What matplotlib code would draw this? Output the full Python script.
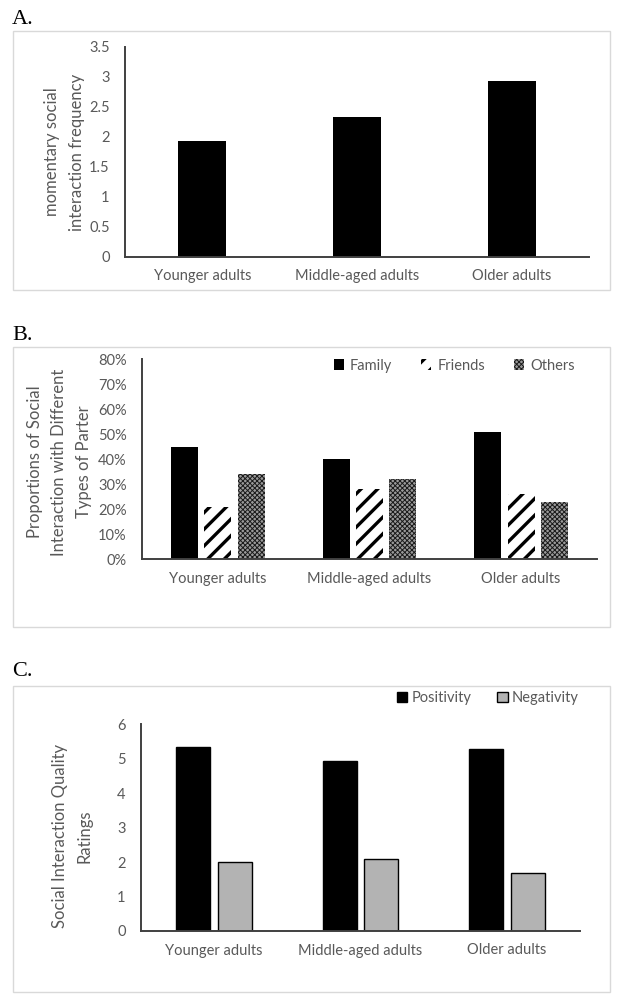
import matplotlib
matplotlib.use("Agg")
import matplotlib.pyplot as plt
from matplotlib.patches import Rectangle
import numpy as np

groups = ["Younger adults", "Middle-aged adults", "Older adults"]

# panel A
frequency = [1.92, 2.32, 2.93]

# panel B (proportions)
partner_names = ["Family", "Friends", "Others"]
family = [0.45, 0.40, 0.51]
friends = [0.21, 0.28, 0.26]
others = [0.34, 0.32, 0.23]

# panel C
quality_names = ["Positivity", "Negativity"]
positivity = [5.34, 4.94, 5.27]
negativity = [1.99, 2.09, 1.68]

TEXT = "#595959"
AXIS = "#404040"
plt.rcParams["font.family"] = ["Lato", "DejaVu Sans"]
plt.rcParams["hatch.linewidth"] = 2.4

W, H = 619, 1000
fig = plt.figure(figsize=(W / 100, H / 100), dpi=100)


def px_box(x0, y0, x1, y1):
    # pixel box (top-left origin) -> figure fraction rect
    return [x0 / W, 1 - y1 / H, (x1 - x0) / W, (y1 - y0) / H]


def frame(x0, y0, x1, y1, letter, ly):
    l, b, w, h = px_box(x0, y0, x1, y1)
    fig.patches.append(Rectangle((l, b), w, h, transform=fig.transFigure,
                                 fill=False, edgecolor="#d9d9d9", linewidth=1.0))
    fig.text(12 / W, 1 - ly / H, letter, family="Liberation Serif",
             fontsize=16, color="black", va="center", ha="left")


def style(ax, ymax, yticks, ylabels):
    ax.set_xlim(-0.5, 2.5)
    ax.set_ylim(0, ymax)
    ax.set_xticks(range(3))
    ax.set_xticklabels(groups)
    ax.set_yticks(yticks)
    ax.set_yticklabels(ylabels)
    for side in ("top", "right"):
        ax.spines[side].set_visible(False)
    for side in ("left", "bottom"):
        ax.spines[side].set_color(AXIS)
        ax.spines[side].set_linewidth(1.4)
    ax.tick_params(axis="both", length=0, colors=TEXT, labelsize=10.5)
    ax.tick_params(axis="y", pad=11)
    ax.tick_params(axis="x", pad=9)
    ax.patch.set_alpha(0)


def ylabel(x, y, text):
    fig.text(x / W, 1 - y / H, text, rotation=90, ha="center", va="center",
             color=TEXT, fontsize=12, linespacing=1.65, multialignment="center")


def thin_hatch(patch, width):
    if hasattr(patch, "set_hatch_linewidth"):
        patch.set_hatch_linewidth(width)
    else:
        patch._hatch_linewidth = width


x = np.arange(3)

# ---- A
frame(12.7, 31, 610, 290, "A.", 19)
ax = fig.add_axes(px_box(125, 46.7, 589, 256.7))
ax.bar(x, frequency, width=0.31, color="black")
style(ax, 3.5, np.arange(0, 3.6, 0.5), ["0", "0.5", "1", "1.5", "2", "2.5", "3", "3.5"])
ylabel(64.5, 152, "momentary social\ninteraction frequency")

# ---- B
frame(12.7, 347, 610, 627, "B.", 335)
ax = fig.add_axes(px_box(142, 359.3, 597, 559.3))
bw, step = 0.178, 0.22
ax.bar(x - step, family, width=bw, color="black", label=partner_names[0])
ax.bar(x, friends, width=bw, facecolor="white", edgecolor="black",
       linewidth=0, hatch="//", label=partner_names[1])
others_bars = ax.bar(x + step, others, width=bw, facecolor="#9a9a9a", edgecolor="#1a1a1a",
                     linewidth=0, hatch="xxxxxxx", label=partner_names[2])
for bar in others_bars:
    thin_hatch(bar, 0.7)
style(ax, 0.8, np.arange(0, 0.81, 0.1), [f"{v}%" for v in range(0, 81, 10)])
leg = ax.legend(loc="center right", bbox_to_anchor=(588 / W, 1 - 365.7 / H),
                bbox_transform=fig.transFigure, ncol=3, frameon=False, fontsize=10.5,
                labelcolor=TEXT, handlelength=0.7, handleheight=0.7, handletextpad=0.4,
                columnspacing=2.0)
thin_hatch(leg.get_patches()[2], 0.7)
ylabel(59.4, 462, "Proportions of Social\nInteraction with Different\nTypes of Parter")

# ---- C
frame(12.7, 685.7, 610, 991.7, "C.", 671.7)
ax = fig.add_axes(px_box(141, 724, 580, 931))
bw, step = 0.232, 0.143
ax.bar(x - step, positivity, width=bw, color="black", edgecolor="black",
       linewidth=1.0, label=quality_names[0])
ax.bar(x + step, negativity, width=bw, color="#b3b3b3", edgecolor="black",
       linewidth=1.0, label=quality_names[1])
style(ax, 6, range(7), [str(v) for v in range(7)])
ax.legend(loc="center right", bbox_to_anchor=(592 / W, 1 - 698 / H),
          bbox_transform=fig.transFigure, ncol=2, frameon=False, fontsize=10.5,
          labelcolor=TEXT, handlelength=0.7, handleheight=0.7, handletextpad=0.3,
          columnspacing=1.8)
ylabel(72.4, 836, "Social Interaction Quality\nRatings")

fig.savefig("out.png", dpi=100)
